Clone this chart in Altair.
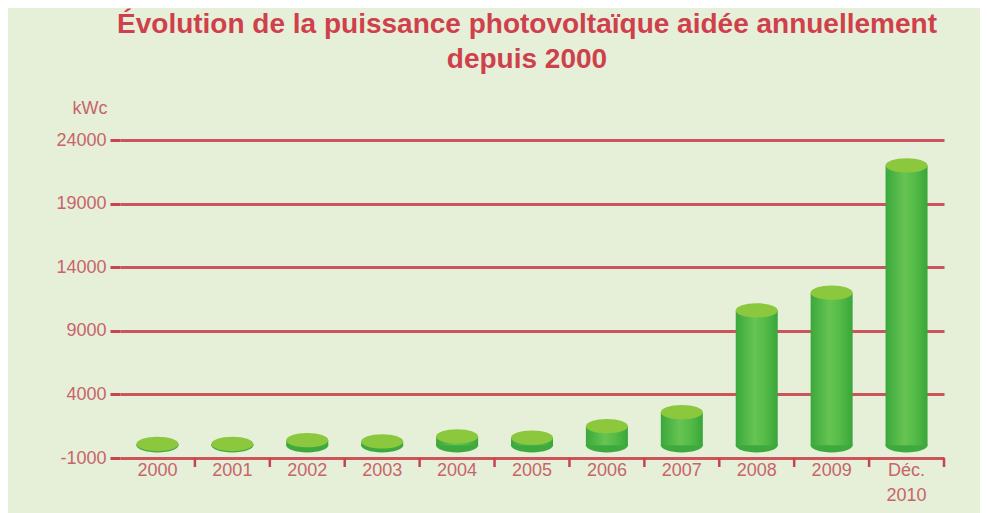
import altair as alt
import pandas as pd

years = ["2000", "2001", "2002", "2003", "2004", "2005", "2006", "2007", "2008", "2009", "Déc. 2010"]
values = [100, 100, 400, 300, 700, 600, 1500, 2600, 10600, 12000, 22000]
y_ticks = [-1000, 4000, 9000, 14000, 19000, 24000]

df = pd.DataFrame({"year": years, "value": values, "base": [0] * len(years)})

RED = "#c9444e"
LABEL = "#c8646a"
BG = "#e6efd8"

body_grad = alt.Gradient(
    gradient="linear", x1=0, x2=1, y1=0, y2=0,
    stops=[
        alt.GradientStop(color="#3aa83c", offset=0),
        alt.GradientStop(color="#66c452", offset=0.45),
        alt.GradientStop(color="#55bb48", offset=0.7),
        alt.GradientStop(color="#38a63a", offset=1),
    ],
)
ELLIPSE = "M-1,0 A1,0.34 0 1,1 1,0 A1,0.34 0 1,1 -1,0 Z"
W = 42

x_enc = alt.X(
    "year:N", sort=years, title=None,
    scale=alt.Scale(paddingInner=0, paddingOuter=0),
    axis=alt.Axis(
        ticks=False, domain=False, labelAngle=0, labelColor=LABEL,
        labelFont="Liberation Sans", labelFontSize=18, labelPadding=3,
        labelLineHeight=25, labelBaseline="top",
        labelExpr="datum.label == 'Déc. 2010' ? ['Déc.', '2010'] : datum.label",
    ),
)
y_enc = alt.Y(
    "value:Q", title="kWc",
    scale=alt.Scale(domain=[-1000, 24000], nice=False, zero=False),
    axis=alt.Axis(
        values=y_ticks, domain=False,
        labelExpr="'' + datum.value",
        grid=True, gridColor=RED, gridWidth=3, gridOpacity=0.9,
        tickColor=RED, tickSize=10, tickWidth=3,
        labelColor=LABEL, labelFont="Liberation Sans", labelFontSize=18,
        labelPadding=4,
        titleAngle=0, titleColor=LABEL, titleFont="Liberation Sans",
        titleFontSize=18, titleFontWeight="normal",
        titleAlign="right", titleBaseline="middle", titleX=-13, titleY=-32,
    ),
)

base = alt.Chart(df)

bottom = base.mark_point(shape=ELLIPSE, size=W * W, filled=True, fill="#3eaa3e",
                         opacity=1, strokeWidth=0).encode(
    x=x_enc, y=alt.Y("base:Q", scale=alt.Scale(domain=[-1000, 24000], nice=False, zero=False)))

bars = base.mark_bar(size=W, fill=body_grad).encode(
    x=x_enc, y=y_enc, y2="base:Q")

top = base.mark_point(shape=ELLIPSE, size=W * W, filled=True, fill="#8cc83e",
                      opacity=1, strokeWidth=0).encode(
    x=x_enc, y=alt.Y("value:Q"))

ticks = base.mark_rule(color=RED, strokeWidth=2.5).encode(
    x=alt.X("year:N", sort=years, bandPosition=1),
    y=alt.value(318), y2=alt.value(327))

chart = alt.layer(bottom, bars, top, ticks).properties(
    width=824, height=318,
    autosize=alt.AutoSizeParams(type="none"),
    padding={"left": 112, "top": 132, "right": 36, "bottom": 55},
    background=BG,
    title=alt.TitleParams(
        text=["Évolution de la puissance photovoltaïque aidée annuellement", "depuis 2000"],
        font="Liberation Sans", fontSize=28, fontWeight="bold", color="#cf3f4c",
        anchor="middle", lineHeight=35, offset=25, dx=-5,
    ),
).configure_view(stroke=None)

chart.save("out.html", embed_options={"renderer": "svg", "actions": False})
